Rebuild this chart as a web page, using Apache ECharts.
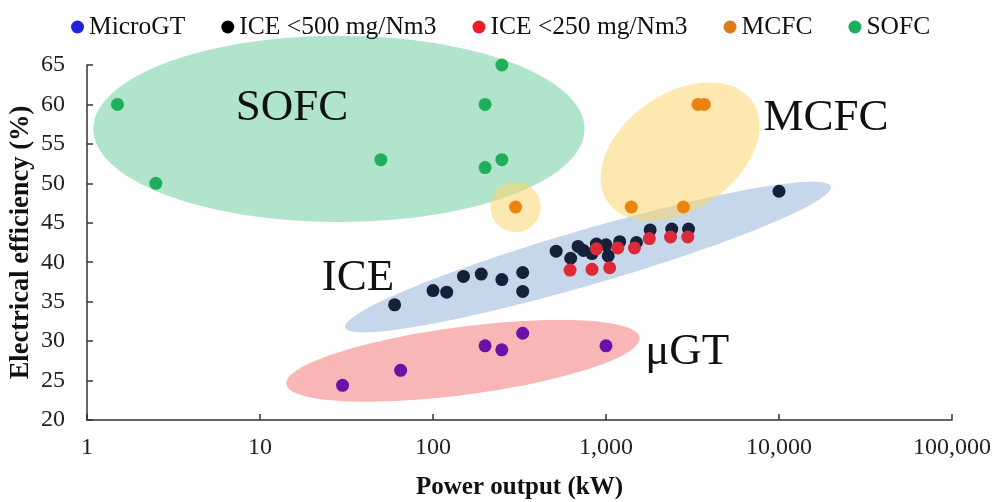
<!DOCTYPE html>
<html>
<head>
<meta charset="utf-8">
<script src="https://cdn.jsdelivr.net/npm/echarts@6/dist/echarts.min.js"></script>
<style>
  html, body { margin: 0; padding: 0; background: #fff; }
  #chart { width: 998px; height: 502px; }
</style>
</head>
<body>
<div id="chart"></div>
<script>
// 数据 (kW, %)
const mgtX = [30, 65, 200, 250, 330, 1000];
const mgtY = [24.4, 26.3, 29.4, 28.9, 31.0, 29.4];

const ice500X = [60, 100, 120, 150, 190, 250, 330, 330, 515, 625, 690, 740, 830, 880, 1000, 1030, 1200, 1500, 1800, 2400, 3000, 10000];
const ice500Y = [34.6, 36.4, 36.2, 38.2, 38.5, 37.8, 38.7, 36.3, 41.4, 40.5, 42.0, 41.5, 41.1, 42.3, 42.2, 40.8, 42.6, 42.5, 44.1, 44.2, 44.2, 49.0];

const ice250X = [620, 830, 1050, 880, 1170, 1460, 1780, 2360, 2970];
const ice250Y = [39.0, 39.1, 39.3, 41.7, 41.8, 41.8, 43.0, 43.2, 43.2];

const mcfcX = [300, 1400, 2800, 3400, 3700];
const mcfcY = [47, 47, 47, 60, 60];

const sofcX = [1.5, 2.5, 50, 200, 250, 200, 250];
const sofcY = [60, 50, 53, 60, 65, 52, 53];

const xTicks = [1, 10, 100, 1000, 10000, 100000];

const seriesNames = ["MicroGT", "ICE <500 mg/Nm3", "ICE <250 mg/Nm3", "MCFC", "SOFC"];

// 区域椭圆: 中心(数据), a 以十倍程计, b 以 % 计, rot 角度
const regions = [
  { cx: 28.6, cy: 56.9, a: 1.42, b: 11.8, rot: 0, fill: "rgba(60,190,125,0.4)" },
  { cx: 149, cy: 27.5, a: 1.03, b: 4.3, rot: 7.5, fill: "rgba(240,80,80,0.42)" },
  { cx: 787, cy: 40.66, a: 1.462, b: 3.5, rot: 16.2, fill: "rgba(160,188,222,0.6)" },
  { cx: 2680, cy: 54.0, a: 0.509, b: 7.35, rot: 35, fill: "rgba(252,214,110,0.55)" },
  { cx: 300, cy: 47, a: 0.145, b: 3.17, rot: 0, fill: "rgba(252,214,110,0.55)" },
];

const regionLabels = [
  { text: "SOFC", x: 15.3, y: 59.5 },
  { text: "MCFC", x: 18700, y: 58.3 },
  { text: "ICE", x: 36.8, y: 38.0 },
  { text: "μGT", x: 2950, y: 28.6 },
];

const serif = '"Liberation Serif", "Times New Roman", serif';

const toPairs = (xs, ys) => xs.map((x, i) => [x, ys[i]]);
const fmt = (v) => String(Math.round(v)).replace(/\B(?=(\d{3})+(?!\d))/g, ",");

const chart = echarts.init(document.getElementById("chart"));

const renderRegion = (params, api) => {
  const r = regions[params.dataIndex];
  const c = api.coord([r.cx, r.cy]);
  const dec = api.coord([10, r.cy])[0] - api.coord([1, r.cy])[0];
  const unit = api.coord([r.cx, r.cy])[1] - api.coord([r.cx, r.cy + 1])[1];
  const a = r.a * dec;
  const b = r.b * unit;
  const th = (r.rot * Math.PI) / 180;
  const pts = [];
  for (let i = 0; i < 120; i++) {
    const t = (i / 120) * Math.PI * 2;
    const u = a * Math.cos(t);
    const v = b * Math.sin(t);
    pts.push([c[0] + u * Math.cos(th) + v * Math.sin(th), c[1] - u * Math.sin(th) + v * Math.cos(th)]);
  }
  return { type: "polygon", shape: { points: pts }, style: { fill: r.fill } };
};

const renderLabel = (params, api) => {
  const l = regionLabels[params.dataIndex];
  const p = api.coord([l.x, l.y]);
  return {
    type: "text",
    x: p[0],
    y: p[1],
    style: {
      text: l.text,
      fontFamily: serif,
      fontSize: 45,
      fill: "#111",
      align: "center",
      verticalAlign: "middle",
    },
  };
};

const dot = (name, xs, ys, color) => ({
  name: name,
  type: "scatter",
  symbolSize: 13,
  z: 5,
  itemStyle: { color: color, opacity: 1 },
  data: toPairs(xs, ys),
});

const options = {
  animation: false,
  backgroundColor: "#fff",
  legend: {
    top: 9,
    left: 66,
    icon: "circle",
    itemWidth: 13,
    itemHeight: 13,
    itemGap: 36,
    textStyle: { fontFamily: serif, fontSize: 25.5, color: "#111", padding: [0, 0, 0, 0] },
    data: [
      { name: seriesNames[0], itemStyle: { color: "#2323dd" } },
      { name: seriesNames[1], itemStyle: { color: "#000" } },
      { name: seriesNames[2], itemStyle: { color: "#ee1c24" } },
      { name: seriesNames[3], itemStyle: { color: "#dc7a1c" } },
      { name: seriesNames[4], itemStyle: { color: "#1fae5b" } },
    ],
  },
  grid: { left: 87, right: 46, top: 65, bottom: 82, outerBoundsMode: "none", containLabel: false },
  xAxis: {
    type: "log",
    logBase: 10,
    min: xTicks[0],
    max: xTicks[xTicks.length - 1],
    name: "Power output (kW)",
    nameLocation: "middle",
    nameGap: 55,
    nameTextStyle: { fontFamily: serif, fontSize: 25, fontWeight: "bold", color: "#111" },
    axisLine: { lineStyle: { color: "#333", width: 1.5 } },
    axisTick: { inside: true, length: 6, lineStyle: { color: "#333", width: 1.5 } },
    minorTick: { show: false },
    splitLine: { show: false },
    axisLabel: { fontFamily: serif, fontSize: 24, color: "#222", margin: 16, formatter: fmt },
  },
  yAxis: {
    type: "value",
    min: 20,
    max: 65,
    interval: 5,
    name: "Electrical efficiency (%)",
    nameLocation: "middle",
    nameGap: 52,
    nameMoveOverlap: false,
    nameTextStyle: { fontFamily: serif, fontSize: 26.5, fontWeight: "bold", color: "#111" },
    axisLine: { show: true, lineStyle: { color: "#333", width: 1.5 } },
    axisTick: { show: true, inside: true, length: 6, lineStyle: { color: "#333", width: 1.5 } },
    splitLine: { show: false },
    axisLabel: { fontFamily: serif, fontSize: 24, color: "#222", margin: 22 },
  },
  series: [
    {
      type: "custom",
      silent: true,
      clip: false,
      z: 1,
      renderItem: renderRegion,
      data: regions.map((r) => [r.cx, r.cy]),
    },
    {
      type: "custom",
      silent: true,
      clip: false,
      z: 2,
      renderItem: renderLabel,
      data: regionLabels.map((l) => [l.x, l.y]),
    },
    dot(seriesNames[0], mgtX, mgtY, "#6a11a8"),
    dot(seriesNames[1], ice500X, ice500Y, "#15213a"),
    dot(seriesNames[2], ice250X, ice250Y, "#dc2a38"),
    dot(seriesNames[3], mcfcX, mcfcY, "#ea840e"),
    dot(seriesNames[4], sofcX, sofcY, "#1fae5b"),
  ],
};
chart.setOption(options);
</script>
</body>
</html>
